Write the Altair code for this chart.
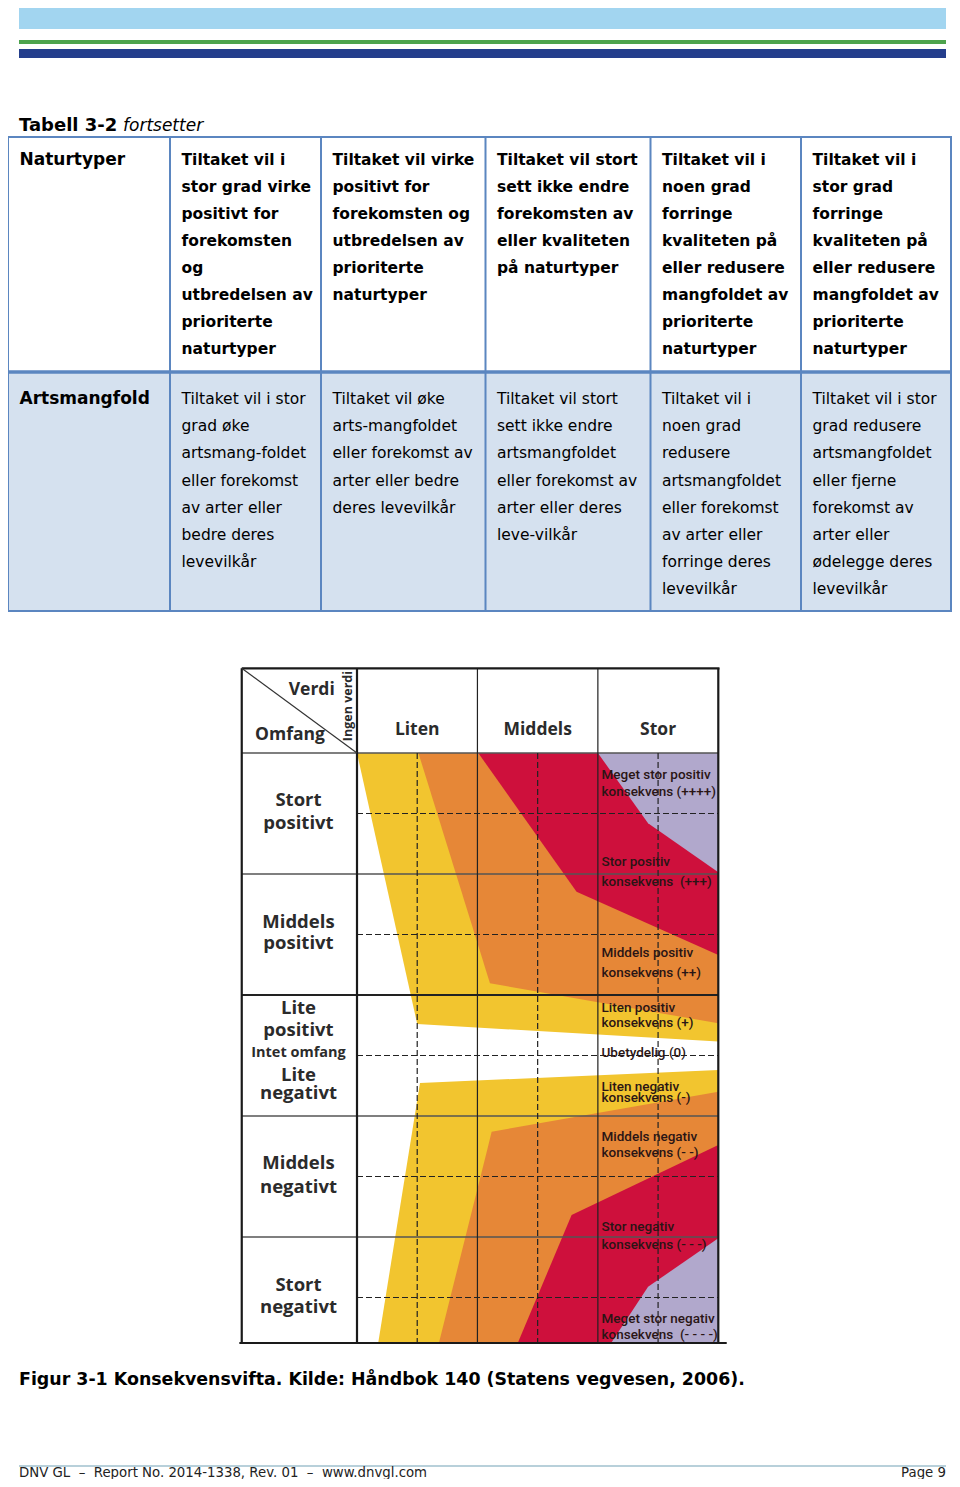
import altair as alt
import pandas as pd

# ---------------- text content ----------------
NB = "\u00a0"
title_bold = "Tabell 3-2"
title_italic = "fortsetter"

header_cols = [
    ["Naturtyper"],
    ["Tiltaket vil i", "stor grad virke", "positivt for", "forekomsten", "og",
     "utbredelsen av", "prioriterte", "naturtyper"],
    ["Tiltaket vil virke", "positivt for", "forekomsten og", "utbredelsen av",
     "prioriterte", "naturtyper"],
    ["Tiltaket vil stort", "sett ikke endre", "forekomsten av", "eller kvaliteten",
     "på naturtyper"],
    ["Tiltaket vil i", "noen grad", "forringe", "kvaliteten på", "eller redusere",
     "mangfoldet av", "prioriterte", "naturtyper"],
    ["Tiltaket vil i", "stor grad", "forringe", "kvaliteten på", "eller redusere",
     "mangfoldet av", "prioriterte", "naturtyper"],
]
body_cols = [
    ["Artsmangfold"],
    ["Tiltaket vil i stor", "grad øke", "artsmang-foldet", "eller forekomst",
     "av arter eller", "bedre deres", "levevilkår"],
    ["Tiltaket vil øke", "arts-mangfoldet", "eller forekomst av", "arter eller bedre",
     "deres levevilkår"],
    ["Tiltaket vil stort", "sett ikke endre", "artsmangfoldet", "eller forekomst av",
     "arter eller deres", "leve-vilkår"],
    ["Tiltaket vil i", "noen grad", "redusere", "artsmangfoldet", "eller forekomst",
     "av arter eller", "forringe deres", "levevilkår"],
    ["Tiltaket vil i stor", "grad redusere", "artsmangfoldet", "eller fjerne",
     "forekomst av", "arter eller", "ødelegge deres", "levevilkår"],
]

caption = "Figur 3-1 Konsekvensvifta. Kilde: Håndbok 140 (Statens vegvesen, 2006)."
footer_left = ("DNV GL " + NB + "\u2013" + NB + " Report No. 2014-1338, Rev. 01 " + NB
               + "\u2013" + NB + " www.dnvgl.com")
footer_right = "Page 9"

# ---------------- konsekvensvifte (fan) ----------------
# verdi axis: 0..3 = Liten, Middels, Stor ; omfang axis: +2 stort positivt .. -2 stort negativt
verdi_labels = ["Liten", "Middels", "Stor"]
verdi_centers = [0.5, 1.5, 2.5]
omfang_label_lines = ["Stort", "positivt", "Middels", "positivt", "Lite", "positivt",
                      "Intet omfang", "Lite", "negativt", "Middels", "negativt",
                      "Stort", "negativt"]
omfang_label_pos = [2.112, 1.921, 1.106, 0.927, 0.393, 0.211, 0.02, -0.161, -0.31,
                    -0.888, -1.084, -1.897, -2.076]

# boundaries of the coloured bands: (omfang, verdi) from the band edge to the Stor-edge
band_names = ["gul_pos", "oransje_pos", "rod_pos", "lilla_pos",
              "gul_neg", "oransje_neg", "rod_neg", "lilla_neg"]
band_omfang = [
    [2.5, 0.26, 0.115],
    [2.5, 0.597, 0.266],
    [2.5, 1.354, 0.831],
    [2.5, 1.919, 1.514],
    [-0.12, -0.227, -2.376],
    [-0.299, -0.63, -0.756, -2.376],
    [-0.74, -1.318, -2.376],
    [-1.511, -1.911, -2.376],
]
band_verdi = [
    [0.0, 0.5, 3.0],
    [0.51, 1.104, 3.0],
    [1.007, 1.823, 3.0],
    [2.0, 2.417, 3.0],
    [3.0, 0.523, 0.176],
    [3.0, 1.118, 1.087, 0.68],
    [3.0, 1.782, 1.335],
    [3.0, 2.417, 2.11],
]
band_colors = ["#F2C52F", "#E68737", "#CE103C", "#B1A8CC",
               "#F2C52F", "#E68737", "#CE103C", "#B1A8CC"]

konsekvens_lines = [
    "Meget stor positiv", "konsekvens (++++)",
    "Stor positiv", "konsekvens " + NB + "(+++)",
    "Middels positiv", "konsekvens (++)",
    "Liten positiv", "konsekvens (+)",
    "Ubetydelig (0)",
    "Liten negativ", "konsekvens (-)",
    "Middels negativ", "konsekvens (- -)",
    "Stor negativ", "konsekvens (- - -)",
    "Meget stor negativ", "konsekvens " + NB + "(- - - -)",
]
konsekvens_pos = [2.318, 2.18, 1.602, 1.436, 0.845, 0.679, 0.39, 0.266, 0.018,
                  -0.258, -0.354, -0.671, -0.803, -1.415, -1.566, -2.18, -2.31]

# ---------------- layout ----------------
W, H = 944, 1471
PX = alt.Scale(domain=[8, 8 + W], range=[0, W], nice=False, zero=False)
PY = alt.Scale(domain=[8, 8 + H], range=[0, H], nice=False, zero=False)


def rect_layer(df):
    return alt.Chart(df).mark_rect().encode(
        x=alt.X("x:Q", scale=PX, axis=None), x2="x2:Q",
        y=alt.Y("y:Q", scale=PY, axis=None), y2="y2:Q",
        color=alt.Color("c:N", scale=None))


def rule_layer(df, color, width, dash=None):
    kw = dict(color=color, strokeWidth=width)
    if dash:
        kw["strokeDash"] = dash
    return alt.Chart(df).mark_rule(**kw).encode(
        x=alt.X("x:Q", scale=PX, axis=None), x2="x2:Q",
        y=alt.Y("y:Q", scale=PY, axis=None), y2="y2:Q")


def text_layer(df, **kw):
    base = dict(align="left", baseline="middle", font="DejaVu Sans", color="#000000")
    base.update(kw)
    return alt.Chart(df).mark_text(**base).encode(
        x=alt.X("x:Q", scale=PX, axis=None), y=alt.Y("y:Q", scale=PY, axis=None),
        text="t:N")


# top header bars
bars = pd.DataFrame({
    "x": [19, 19, 19], "x2": [946, 946, 946],
    "y": [2, 40, 49], "y2": [29, 44, 58],
    "c": ["#A2D5F0", "#4DA34D", "#243E8C"],
})

# table
col_edges = [8, 170, 321, 485.5, 650.5, 801, 951]
tab_top, tab_mid, tab_bot = 137, 372, 611
body_fill = pd.DataFrame({"x": [8], "x2": [951], "y": [tab_mid], "y2": [tab_bot],
                          "c": ["#D5E1EF"]})
vlines = pd.DataFrame({"x": col_edges, "x2": col_edges,
                       "y": [tab_top] * len(col_edges), "y2": [tab_bot] * len(col_edges)})
hlines = pd.DataFrame({"x": [7, 7], "x2": [952, 952], "y": [tab_top, tab_bot],
                       "y2": [tab_top, tab_bot]})
hmid = pd.DataFrame({"x": [7], "x2": [952], "y": [tab_mid], "y2": [tab_mid]})


def cell_lines(cols, y0, step):
    first, rest = [], []
    for ci, lines in enumerate(cols):
        for li, t in enumerate(lines):
            row = {"x": col_edges[ci] + 11.5, "y": y0 + step * li, "t": t}
            (first if ci == 0 else rest).append(row)
    return pd.DataFrame(first), pd.DataFrame(rest)


head0, head = cell_lines(header_cols, 160, 27.05)
body0, body = cell_lines(body_cols, 399, 27.2)

title_b = pd.DataFrame({"x": [19], "y": [126], "t": [title_bold]})
title_i = pd.DataFrame({"x": [123], "y": [126], "t": [title_italic]})
cap_df = pd.DataFrame({"x": [19], "y": [1380], "t": [caption]})
foot_l = pd.DataFrame({"x": [19], "y": [1476.5], "t": [footer_left]})
foot_r = pd.DataFrame({"x": [946], "y": [1476.5], "t": [footer_right]})
foot_line = pd.DataFrame({"x": [19], "x2": [946], "y": [1466], "y2": [1466]})

page = alt.layer(
    rect_layer(bars),
    text_layer(title_b, fontSize=18, fontWeight="bold"),
    text_layer(title_i, fontSize=17, fontStyle="italic"),
    rect_layer(body_fill),
    rule_layer(vlines, "#5B86C0", 2),
    rule_layer(hlines, "#5B86C0", 2),
    rule_layer(hmid, "#5B86C0", 3.5),
    text_layer(head0, fontSize=17, fontWeight="bold"),
    text_layer(head, fontSize=15.5, fontWeight="bold"),
    text_layer(body0, fontSize=17, fontWeight="bold"),
    text_layer(body, fontSize=15.5),
    text_layer(cap_df, fontSize=17.4, fontWeight="bold"),
    rule_layer(foot_line, "#B8D0DA", 2),
    text_layer(foot_l, fontSize=13.3, color="#222222", baseline="alphabetic"),
    text_layer(foot_r, fontSize=13.3, color="#222222", align="right",
               baseline="alphabetic"),
)

# ---------------- fan chart (own scales) ----------------
FX = alt.Scale(domain=[0, 3], range=[357 - 8, 718.3 - 8], nice=False, zero=False)
FY = alt.Scale(domain=[3, -3], range=[1055.5 - 8 - 363, 1055.5 - 8 + 363],
               nice=False, zero=False)
LEFT, TOP, BOT = -0.957, 3.2, -2.376

band_rows = []
for name, om, ve in zip(band_names, band_omfang, band_verdi):
    for o, v in zip(om, ve):
        band_rows.append({"band": name, "y": o, "x": v, "x2": 3.0})
band_df = pd.DataFrame(band_rows)

fan_layers = []
for name, col in zip(band_names, band_colors):
    fan_layers.append(
        alt.Chart(band_df).transform_filter(alt.datum.band == name)
        .mark_area(orient="horizontal", color=col, opacity=1)
        .encode(y=alt.Y("y:Q", scale=FY, axis=None),
                x=alt.X("x:Q", scale=FX, axis=None), x2="x2:Q"))


def frule(df, color, width, dash=None):
    kw = dict(color=color, strokeWidth=width)
    if dash:
        kw["strokeDash"] = dash
    return alt.Chart(df).mark_rule(**kw).encode(
        x=alt.X("x:Q", scale=FX, axis=None), x2="x2:Q",
        y=alt.Y("y:Q", scale=FY, axis=None), y2="y2:Q")


row_edges = [1.5, -0.5, -1.5]
row_mids = [2, 1, 0, -1, -2]
col_bounds = [1, 2]
col_mids = [0.5, 1.5, 2.5]

solid_h = pd.DataFrame({"x": [LEFT] * 4, "x2": [3] * 4, "y": [2.5] + row_edges,
                        "y2": [2.5] + row_edges})
heavy_h = pd.DataFrame({"x": [LEFT], "x2": [3], "y": [0.5], "y2": [0.5]})
dash_h = pd.DataFrame({"x": [0] * 5, "x2": [3] * 5, "y": row_mids, "y2": row_mids})
solid_v = pd.DataFrame({"x": col_bounds, "x2": col_bounds, "y": [TOP] * 2, "y2": [BOT] * 2})
dash_v = pd.DataFrame({"x": col_mids, "x2": col_mids, "y": [2.5] * 3, "y2": [BOT] * 3})
frame_v = pd.DataFrame({"x": [LEFT, 0, 3], "x2": [LEFT, 0, 3], "y": [TOP] * 3,
                        "y2": [BOT] * 3})
frame_h = pd.DataFrame({"x": [LEFT, LEFT - 0.02], "x2": [3.01, 3.07], "y": [TOP, BOT],
                        "y2": [TOP, BOT]})
diag = pd.DataFrame({"x": [LEFT], "x2": [0], "y": [TOP], "y2": [2.5]})


def ftext(df, **kw):
    base = dict(align="center", baseline="middle", font="Open Sans", color="#2b2b2b")
    base.update(kw)
    return alt.Chart(df).mark_text(**base).encode(
        x=alt.X("x:Q", scale=FX, axis=None), y=alt.Y("y:Q", scale=FY, axis=None),
        text="t:N")


verdi_df = pd.DataFrame({"x": verdi_centers, "y": [2.69] * 3, "t": verdi_labels})
corner_v = pd.DataFrame({"x": [-0.376], "y": [3.02], "t": ["Verdi"]})
corner_o = pd.DataFrame({"x": [-0.556], "y": [2.65], "t": ["Omfang"]})
ingen = pd.DataFrame({"x": [-0.075], "y": [2.888], "t": ["Ingen verdi"]})
omf_df = pd.DataFrame({"x": [-0.486] * len(omfang_label_lines), "y": omfang_label_pos,
                       "t": omfang_label_lines})
omf_big = omf_df[omf_df.t != "Intet omfang"]
omf_small = omf_df[omf_df.t == "Intet omfang"]
kons_df = pd.DataFrame({"x": [2.03] * len(konsekvens_lines), "y": konsekvens_pos,
                        "t": konsekvens_lines})

fan = alt.layer(
    *fan_layers,
    frule(solid_h, "#555555", 1.3),
    frule(heavy_h, "#222222", 2),
    frule(solid_v, "#222222", 1.2),
    frule(dash_h, "#222222", 1.2, [6, 3]),
    frule(dash_v, "#222222", 1.2, [6, 3]),
    frule(frame_v, "#1a1a1a", 2.2),
    frule(frame_h, "#1a1a1a", 2.2),
    frule(diag, "#333333", 1.2),
    ftext(verdi_df, fontSize=17.5, fontWeight="bold"),
    ftext(corner_v, fontSize=17.5, fontWeight="bold"),
    ftext(corner_o, fontSize=17.5, fontWeight="bold"),
    ftext(ingen, fontSize=12.5, fontWeight="bold", angle=270),
    ftext(omf_big, fontSize=18.5, fontWeight="bold"),
    ftext(omf_small, fontSize=14.5, fontWeight="bold"),
    ftext(kons_df, fontSize=13.5, align="left", font="Roboto",
          fontWeight=500, color="#2a1515"),
)

chart = alt.layer(page, fan).resolve_scale(x="independent", y="independent").properties(
    width=W, height=H, padding=0, autosize=alt.AutoSizeParams(type="none"),
    background="white",
).configure_view(stroke=None)

chart.save("out.html", embed_options={"renderer": "svg", "actions": False})
